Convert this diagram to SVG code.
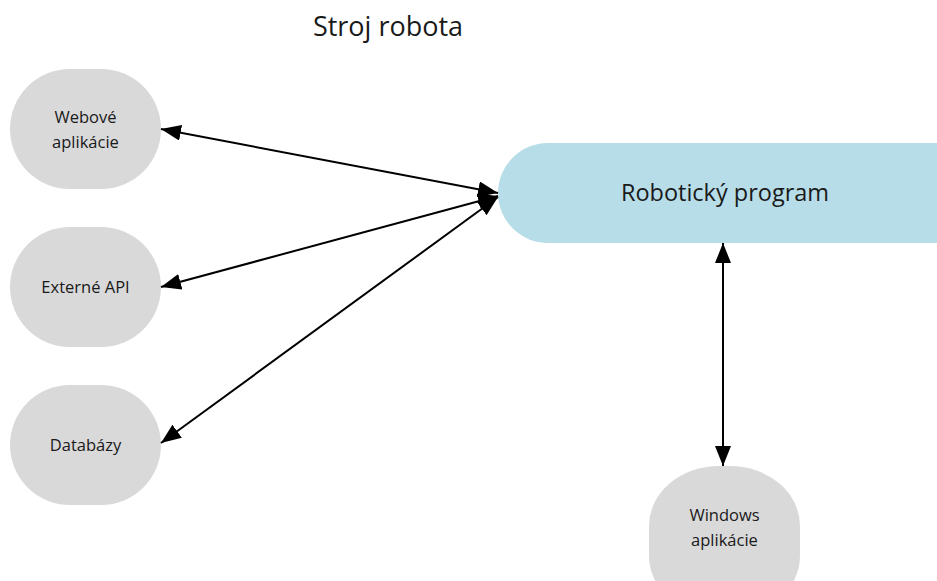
<svg xmlns="http://www.w3.org/2000/svg" width="937" height="581" viewBox="0 0 937 581">
<style>
.n{fill:#D9D9D9}
.b{fill:#B7DDE8}
.t{font-family:"Open Sans","Liberation Sans",sans-serif;font-size:16.5px;fill:#1a1a1a;text-anchor:middle}
.e{stroke:#000;stroke-width:2;fill:none;marker-start:url(#a);marker-end:url(#a)}
</style>
<defs>
<marker id="a" viewBox="0 0 20 16" refX="20" refY="8" markerWidth="20" markerHeight="16" markerUnits="userSpaceOnUse" orient="auto-start-reverse">
<path d="M0,0 L20,8 L0,16 Z" fill="#000"/>
</marker>
</defs>
<rect width="937" height="581" fill="#fff"/>
<text x="388" y="36" style="font-family:'Open Sans','Liberation Sans',sans-serif;font-size:27px;fill:#1a1a1a;text-anchor:middle">Stroj robota</text>
<g id="web"><rect class="n" x="10" y="69" width="151" height="120" rx="60" ry="60"/><text class="t" x="85.5" y="123">Webové</text><text class="t" x="85.5" y="148">aplikácie</text></g>
<g id="api"><rect class="n" x="10" y="227" width="151" height="120" rx="60" ry="60"/><text class="t" x="85.5" y="293">Externé API</text></g>
<g id="db"><rect class="n" x="10" y="385" width="151" height="120" rx="60" ry="60"/><text class="t" x="85.5" y="451">Databázy</text></g>
<g id="robot"><rect class="b" x="498" y="143" width="490" height="100" rx="50" ry="50"/><text x="725" y="201" style="font-family:'Open Sans','Liberation Sans',sans-serif;font-size:23.5px;fill:#1a1a1a;text-anchor:middle">Robotický program</text></g>
<g id="win"><rect class="n" x="649" y="466" width="151" height="150" rx="70" ry="60"/><text class="t" x="724.5" y="521">Windows</text><text class="t" x="724.5" y="546">aplikácie</text></g>
<g id="connectors">
<line class="e" x1="161" y1="129" x2="498" y2="193"/>
<line class="e" x1="161" y1="287" x2="498" y2="196"/>
<line class="e" x1="161" y1="443" x2="498" y2="197"/>
<line class="e" x1="723" y1="243" x2="723" y2="466"/>
</g>
</svg>
